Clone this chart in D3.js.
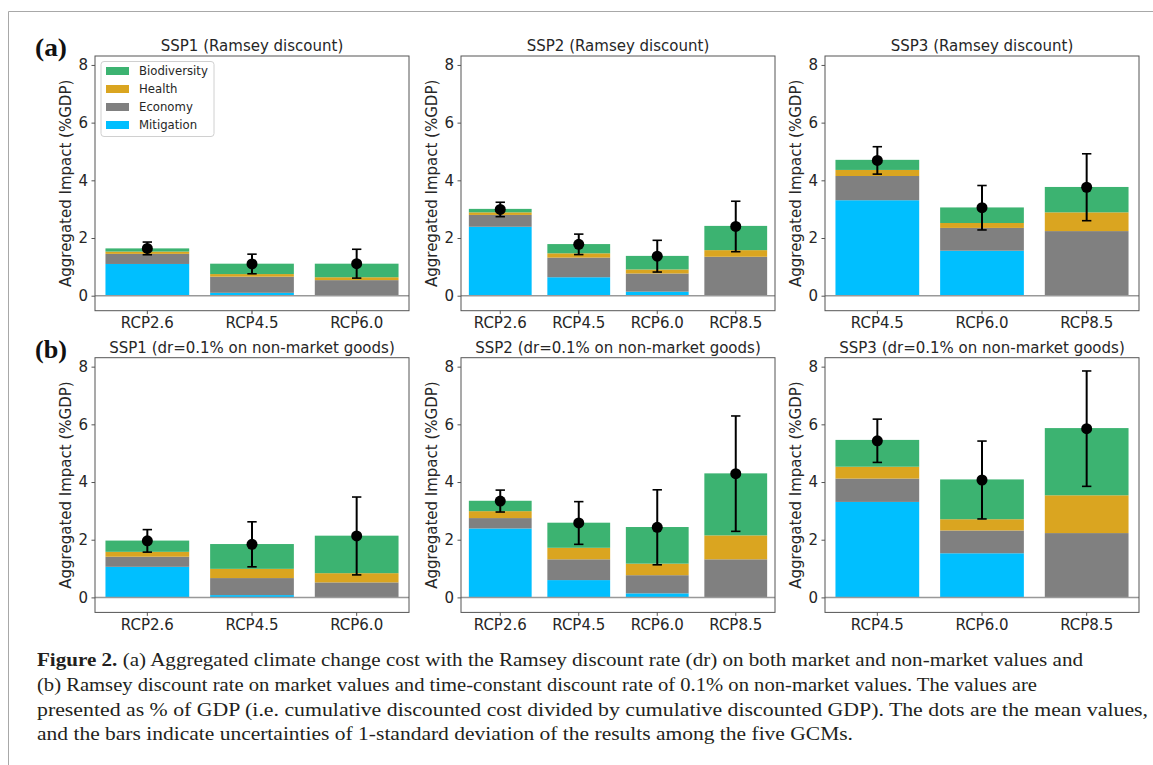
<!DOCTYPE html>
<html>
<head>
<meta charset="utf-8">
<script src="https://cdn.jsdelivr.net/npm/d3@7"></script>
<style>
  html, body { margin: 0; padding: 0; background: #fff; }
  svg { display: block; }
</style>
</head>
<body>
<svg id="chart" width="1153" height="765"></svg>
<script>
// ---------------- DATA ----------------
const categoriesSSP1 = ["RCP2.6", "RCP4.5", "RCP6.0"];
const categoriesSSP2 = ["RCP2.6", "RCP4.5", "RCP6.0", "RCP8.5"];
const categoriesSSP3 = ["RCP4.5", "RCP6.0", "RCP8.5"];

const titlesA = ["SSP1 (Ramsey discount)", "SSP2 (Ramsey discount)", "SSP3 (Ramsey discount)"];
const titlesB = ["SSP1 (dr=0.1% on non-market goods)", "SSP2 (dr=0.1% on non-market goods)", "SSP3 (dr=0.1% on non-market goods)"];

const seriesNames = ["Mitigation", "Economy", "Health", "Biodiversity"];
const legendOrder = ["Biodiversity", "Health", "Economy", "Mitigation"];
const yTicks = [0, 2, 4, 6, 8];

// Row (a): Ramsey discount — stacked segment heights (% GDP)
const mitigationA   = [[1.10, 0.10, 0.00], [2.39, 0.64, 0.14, 0.00], [3.31, 1.56, 0.00]];
const economyA      = [[0.35, 0.56, 0.54], [0.41, 0.68, 0.63, 1.35], [0.84, 0.79, 2.24]];
const healthA       = [[0.08, 0.09, 0.10], [0.09, 0.15, 0.14, 0.23], [0.21, 0.17, 0.65]];
const biodiversityA = [[0.11, 0.36, 0.47], [0.12, 0.32, 0.47, 0.84], [0.35, 0.54, 0.88]];
const meanA         = [[1.64, 1.10, 1.11], [2.99, 1.78, 1.37, 2.40], [4.69, 3.05, 3.76]];
const sdA           = [[0.22, 0.34, 0.50], [0.25, 0.355, 0.55, 0.875], [0.475, 0.77, 1.16]];

// Row (b): dr = 0.1% on non-market goods
const mitigationB   = [[1.06, 0.08, 0.00], [2.39, 0.60, 0.14, 0.00], [3.31, 1.53, 0.00]];
const economyB      = [[0.35, 0.59, 0.52], [0.36, 0.72, 0.63, 1.32], [0.81, 0.79, 2.23]];
const healthB       = [[0.17, 0.32, 0.32], [0.24, 0.40, 0.40, 0.83], [0.41, 0.39, 1.31]];
const biodiversityB = [[0.39, 0.86, 1.30], [0.36, 0.87, 1.27, 2.15], [0.93, 1.38, 2.33]];
const meanB         = [[1.96, 1.84, 2.13], [3.34, 2.58, 2.43, 4.29], [5.43, 4.07, 5.85]];
const sdB           = [[0.39, 0.78, 1.35], [0.38, 0.74, 1.30, 2.00], [0.75, 1.35, 2.00]];

const captionLines = [
  ["Figure 2.", " (a) Aggregated climate change cost with the Ramsey discount rate (dr) on both market and non-market values and"],
  ["", "(b) Ramsey discount rate on market values and time-constant discount rate of 0.1% on non-market values. The values are"],
  ["", "presented as % of GDP (i.e. cumulative discounted cost divided by cumulative discounted GDP). The dots are the mean values,"],
  ["", "and the bars indicate uncertainties of 1-standard deviation of the results among the five GCMs."]
];

// ---------------- STYLE / LAYOUT ----------------
const colors = { Mitigation: "#00BFFF", Economy: "#808080", Health: "#DAA520", Biodiversity: "#3CB371" };
const sansFont = "'DejaVu Sans', sans-serif";
const serifFont = "'Liberation Serif', 'Times New Roman', serif";
const textColor = "#262626";
const spineColor = "#555";

const panelLefts = [95, 461, 825];
const panelWidth = 314;
const rowTops = [56, 357.7];
const panelHeight = 254.7;
const yDomain = [-0.52, 8.31];

const svg = d3.select("#chart");

// outer frame (light gray)
svg.append("path")
  .attr("d", "M8.5,765 L8.5,11.5 L1153,11.5")
  .attr("fill", "none").attr("stroke", "#a8a8a8").attr("stroke-width", 1);

const rows = [
  { cats: [categoriesSSP1, categoriesSSP2, categoriesSSP3], titles: titlesA,
    series: { Mitigation: mitigationA, Economy: economyA, Health: healthA, Biodiversity: biodiversityA },
    mean: meanA, sd: sdA, label: "(a)" },
  { cats: [categoriesSSP1, categoriesSSP2, categoriesSSP3], titles: titlesB,
    series: { Mitigation: mitigationB, Economy: economyB, Health: healthB, Biodiversity: biodiversityB },
    mean: meanB, sd: sdB, label: "(b)" }
];

rows.forEach((row, ri) => {
  const top = rowTops[ri];
  const bottom = top + panelHeight;
  const y = d3.scaleLinear().domain(yDomain).range([bottom, top]);

  // panel label
  svg.append("text")
    .attr("x", 35).attr("y", ri === 0 ? 56 : 358)
    .attr("font-family", serifFont).attr("font-weight", "bold")
    .attr("font-size", 25).attr("fill", "#111")
    .attr("textLength", 32).attr("lengthAdjust", "spacingAndGlyphs")
    .text(row.label);

  for (let pi = 0; pi < 3; pi++) {
    const left = panelLefts[pi];
    const cats = row.cats[pi];
    const x = d3.scaleBand().domain(cats).range([left, left + panelWidth])
      .paddingInner(0.2).paddingOuter(0.1);

    const g = svg.append("g");

    // stacked data
    const table = cats.map((c, i) => {
      const o = { cat: c };
      seriesNames.forEach(s => { o[s] = row.series[s][pi][i]; });
      return o;
    });
    const stacked = d3.stack().keys(seriesNames)(table);

    // bars
    stacked.forEach(layer => {
      g.append("g").selectAll("rect").data(layer).join("rect")
        .attr("x", d => x(d.data.cat))
        .attr("width", x.bandwidth())
        .attr("y", d => y(d[1]))
        .attr("height", d => Math.max(0, y(d[0]) - y(d[1])))
        .attr("fill", colors[layer.key]);
    });

    // zero line
    g.append("line")
      .attr("x1", left).attr("x2", left + panelWidth)
      .attr("y1", y(0)).attr("y2", y(0))
      .attr("stroke", "#999").attr("stroke-width", 1.5);

    // error bars
    const eb = g.append("g");
    cats.forEach((c, i) => {
      const m = row.mean[pi][i], s = row.sd[pi][i];
      const cx = x(c) + x.bandwidth() / 2;
      eb.append("line").attr("x1", cx).attr("x2", cx)
        .attr("y1", y(m - s)).attr("y2", y(m + s))
        .attr("stroke", "#000").attr("stroke-width", 2);
      [m - s, m + s].forEach(v => {
        eb.append("line").attr("x1", cx - 4.7).attr("x2", cx + 4.7)
          .attr("y1", y(v)).attr("y2", y(v))
          .attr("stroke", "#000").attr("stroke-width", 1.6);
      });
      eb.append("circle").attr("cx", cx).attr("cy", y(m)).attr("r", 5.5).attr("fill", "#000");
    });

    // axes box
    g.append("rect")
      .attr("x", left).attr("y", top).attr("width", panelWidth).attr("height", panelHeight)
      .attr("fill", "none").attr("stroke", spineColor).attr("stroke-width", 1);

    // y axis
    const yAxis = d3.axisLeft(y).tickValues(yTicks).tickSize(3.5).tickPadding(3.5).tickFormat(d3.format("d"));
    const ya = g.append("g").attr("transform", `translate(${left},0)`).call(yAxis);
    ya.select(".domain").remove();
    ya.selectAll("line").attr("stroke", spineColor);
    ya.selectAll("text").attr("font-family", sansFont).attr("font-size", 15).attr("fill", textColor);

    // x axis
    const xAxis = d3.axisBottom(x).tickSize(3.5).tickPadding(3.5);
    const xa = g.append("g").attr("transform", `translate(0,${bottom})`).call(xAxis);
    xa.select(".domain").remove();
    xa.selectAll("line").attr("stroke", spineColor);
    xa.selectAll("text").attr("font-family", sansFont).attr("font-size", 15).attr("fill", textColor);

    // title
    g.append("text")
      .attr("x", left + panelWidth / 2).attr("y", top - 5)
      .attr("text-anchor", "middle")
      .attr("font-family", sansFont).attr("font-size", 15).attr("fill", textColor)
      .text(row.titles[pi]);

    // y label
    g.append("text")
      .attr("transform", `translate(${left - 29},${(top + bottom) / 2}) rotate(-90)`)
      .attr("text-anchor", "middle").attr("dy", "0.35em")
      .attr("font-family", sansFont).attr("font-size", 15).attr("fill", textColor)
      .text("Aggregated Impact (%GDP)");

    // legend
    if (ri === 0 && pi === 0) {
      const lg = g.append("g");
      lg.append("rect")
        .attr("x", left + 6).attr("y", top + 5.5).attr("width", 113).attr("height", 75)
        .attr("rx", 3).attr("fill", "#fff").attr("fill-opacity", 0.8)
        .attr("stroke", "#d0d0d0").attr("stroke-width", 1);
      legendOrder.forEach((name, k) => {
        const cy = top + 15 + k * 18;
        lg.append("rect").attr("x", left + 11).attr("y", cy - 4).attr("width", 23).attr("height", 8)
          .attr("fill", colors[name]);
        lg.append("text").attr("x", left + 44).attr("y", cy + 4.2)
          .attr("font-family", sansFont).attr("font-size", 11.7).attr("fill", textColor)
          .text(name);
      });
    }
  }
});

// caption
const capBaselines = [666, 691, 716, 740];
const capWidths = [1046, 1000, 1111, 816];
captionLines.forEach((ln, i) => {
  const t = svg.append("text")
    .attr("x", 37).attr("y", capBaselines[i])
    .attr("font-family", serifFont).attr("font-size", 18).attr("fill", "#231f20")
    .attr("textLength", capWidths[i]).attr("lengthAdjust", "spacingAndGlyphs");
  if (ln[0]) t.append("tspan").attr("font-weight", "bold").text(ln[0]);
  t.append("tspan").text(ln[1]);
});
</script>
</body>
</html>
